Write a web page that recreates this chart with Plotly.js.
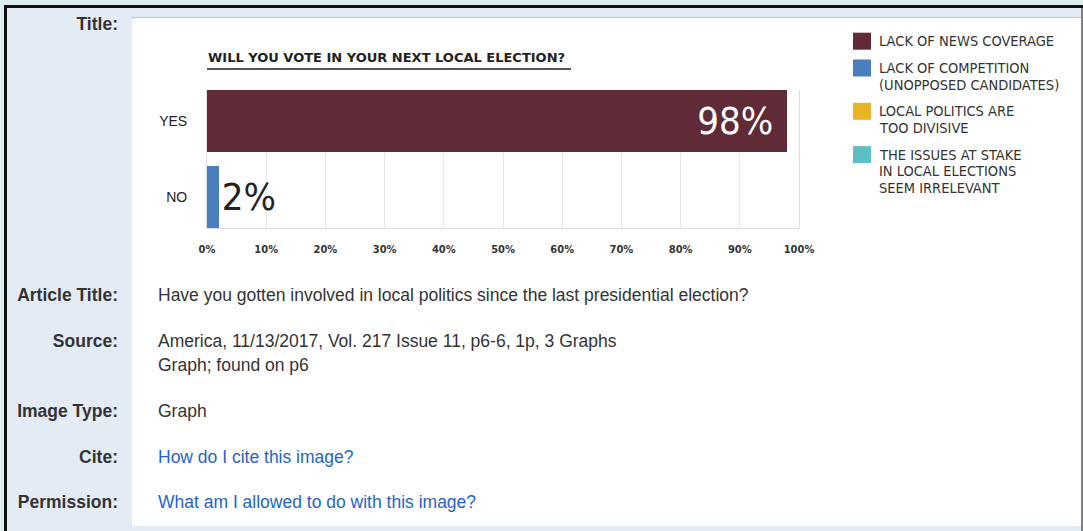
<!DOCTYPE html>
<html>
<head>
<meta charset="utf-8">
<script src="https://cdn.plot.ly/plotly-3.0.1.min.js"></script>
<style>
  html, body { margin:0; padding:0; }
  body { width:1083px; height:531px; overflow:hidden; background:#dcecf0; position:relative;
         font-family: Arial, "Liberation Sans", sans-serif; }
  .abs { position:absolute; }
  .lab { position:absolute; left:7px; width:111px; text-align:right; font-weight:bold;
         font-size:17.5px; line-height:20px; color:#333; white-space:nowrap; }
  .val { position:absolute; left:158px; font-size:17.5px; line-height:20px; color:#333; white-space:nowrap; }
  .lnk { color:#2563c7; }
  #chart { position:absolute; left:133px; top:18px; width:948px; height:252px; }
</style>
</head>
<body>
<!-- page chrome -->
<div class="abs" style="left:4px;top:5px;width:1079px;height:3px;background:#111;"></div>
<div class="abs" style="left:4px;top:5px;width:3px;height:526px;background:#111;"></div>
<div class="abs" style="left:7px;top:8px;width:125px;height:523px;background:#e3ebf5;"></div>
<div class="abs" style="left:132px;top:8px;width:949px;height:518px;background:#ffffff;"></div>
<div class="abs" style="left:132px;top:8px;width:949px;height:9px;background:#e3ebf5;"></div>
<div class="abs" style="left:132px;top:17px;width:949px;height:1.5px;background:#a9caf2;"></div>
<div class="abs" style="left:7px;top:526px;width:1074px;height:5px;background:#e3ebf5;"></div>
<div class="abs" style="left:1081px;top:8px;width:1.5px;height:523px;background:#808080;"></div>

<div id="chart"></div>

<div id="rows"></div>

<script>
// ---------------- data ----------------
const categories = ['YES', 'NO'];
const values = [98, 2];
const barColors = ['#612a37', '#4a7fbe'];
const xTickVals = [0, 10, 20, 30, 40, 50, 60, 70, 80, 90, 100];
const xTickText = ['0%', '10%', '20%', '30%', '40%', '50%', '60%', '70%', '80%', '90%', '100%'];
const chartTitle = 'WILL YOU VOTE IN YOUR NEXT LOCAL ELECTION?';
const legendLabels = [
  'LACK OF NEWS COVERAGE',
  'LACK OF COMPETITION<br>(UNOPPOSED CANDIDATES)',
  'LOCAL POLITICS ARE<br>TOO DIVISIVE',
  'THE ISSUES AT STAKE<br>IN LOCAL ELECTIONS<br>SEEM IRRELEVANT'
];
const legendColors = ['#612a37', '#4a7fbe', '#e8b423', '#5bbfc3'];

const rowLabels = ['Title:', 'Article Title:', 'Source:', 'Image Type:', 'Cite:', 'Permission:'];
const rowValues = [
  [],
  ['Have you gotten involved in local politics since the last presidential election?'],
  ['America, 11/13/2017, Vol. 217 Issue 11, p6-6, 1p, 3 Graphs', 'Graph; found on p6'],
  ['Graph'],
  ['How do I cite this image?'],
  ['What am I allowed to do with this image?']
];
const rowIsLink = [false, false, false, false, true, true];

// ---------------- page rows ----------------
const rowCenters = [24, 295, 341, 411.5, 457.5, 502.5];
const lineStep = 24;
const rowsEl = document.getElementById('rows');
rowLabels.forEach((lab, i) => {
  const d = document.createElement('div');
  d.className = 'lab';
  d.style.top = (rowCenters[i] - 10.5) + 'px';
  d.textContent = lab;
  rowsEl.appendChild(d);
  rowValues[i].forEach((txt, j) => {
    const v = document.createElement('div');
    v.className = 'val' + (rowIsLink[i] ? ' lnk' : '');
    v.style.top = (rowCenters[i] - 10.5 + j * lineStep) + 'px';
    v.textContent = txt;
    rowsEl.appendChild(v);
  });
});

// ---------------- chart ----------------
const DIV_L = 133, DIV_T = 18, DIV_W = 948, DIV_H = 252;
const M = { l: 74, r: 282, t: 72, b: 42 };
const PL = DIV_L + M.l, PT = DIV_T + M.t;
const PW = DIV_W - M.l - M.r, PH = DIV_H - M.t - M.b;
const X = px => (px - PL) / PW;
const Y = py => (PT + PH - py) / PH;

const condensed = '"DejaVu Sans Condensed", "Liberation Sans Narrow", "Arial Narrow", "DejaVu Sans", sans-serif';

const trace = {
  type: 'bar',
  orientation: 'h',
  y: categories,
  x: values,
  width: 0.81,
  marker: { color: barColors, line: { width: 0 } },
  text: values.map(v => v + '%' + (v > 50 ? '\u00a0' : '')),
  textposition: values.map(v => (v > 50 ? 'inside' : 'outside')),
  insidetextanchor: 'end',
  constraintext: 'none',
  insidetextfont: { family: condensed, size: 38, color: '#ffffff' },
  outsidetextfont: { family: condensed, size: 38, color: '#222222' },
  cliponaxis: false,
  hoverinfo: 'skip'
};

const shapes = [
  { type: 'line', xref: 'paper', yref: 'paper', x0: X(207), x1: X(571), y0: Y(69), y1: Y(69),
    line: { color: '#555555', width: 2 } }
];
const annotations = [
  { xref: 'paper', yref: 'paper', x: X(206), y: Y(57.5), xanchor: 'left', yanchor: 'middle',
    text: chartTitle, showarrow: false,
    font: { family: '"DejaVu Sans", sans-serif', size: 13, weight: 700, color: '#222222' } }
];

// legend drawn as swatches + text lines
const LG_X = 853, LG_SW = 18, LG_SH = 17, LG_TX = 877, LG_LINE = 16.5, LG_GAP = 10.3;
let legTop = 32.7;
legendLabels.forEach((lab, i) => {
  shapes.push({ type: 'rect', xref: 'paper', yref: 'paper', x0: X(LG_X), x1: X(LG_X + LG_SW),
    y0: Y(legTop), y1: Y(legTop + LG_SH), fillcolor: legendColors[i], line: { width: 0 } });
  const lines = lab.split('<br>');
  lines.forEach((ln, j) => {
    annotations.push({ xref: 'paper', yref: 'paper', x: X(LG_TX), y: Y(legTop + 8.5 + j * LG_LINE),
      xanchor: 'left', yanchor: 'middle', text: ln, showarrow: false,
      font: { family: condensed, size: 14.5, color: '#333333' } });
  });
  legTop += lines.length * LG_LINE + LG_GAP;
});

const layout = {
  width: DIV_W, height: DIV_H,
  margin: M,
  paper_bgcolor: '#ffffff',
  plot_bgcolor: '#ffffff',
  showlegend: false,
  bargap: 0,
  xaxis: {
    range: [0, 100], autorange: false, fixedrange: true,
    tickvals: xTickVals, ticktext: xTickText,
    showgrid: true, gridcolor: '#e6e6e6', gridwidth: 1,
    zeroline: false,
    showline: true, linecolor: '#dadada', linewidth: 1,
    ticks: 'outside', ticklen: 11, tickcolor: 'rgba(0,0,0,0)',
    tickfont: { family: condensed, size: 11, weight: 700, color: '#333333' }
  },
  yaxis: {
    type: 'category', range: [1.405, -0.405], autorange: false, fixedrange: true,
    showgrid: false, zeroline: false,
    showline: true, mirror: true, linecolor: '#e0e0e0', linewidth: 1,
    ticks: 'outside', ticklen: 16, tickcolor: 'rgba(0,0,0,0)',
    tickfont: { family: 'Arial, "Liberation Sans", sans-serif', size: 14, color: '#222222' }
  },
  shapes: shapes,
  annotations: annotations
};

Plotly.newPlot('chart', [trace], layout, { displayModeBar: false, staticPlot: true });
</script>
</body>
</html>
